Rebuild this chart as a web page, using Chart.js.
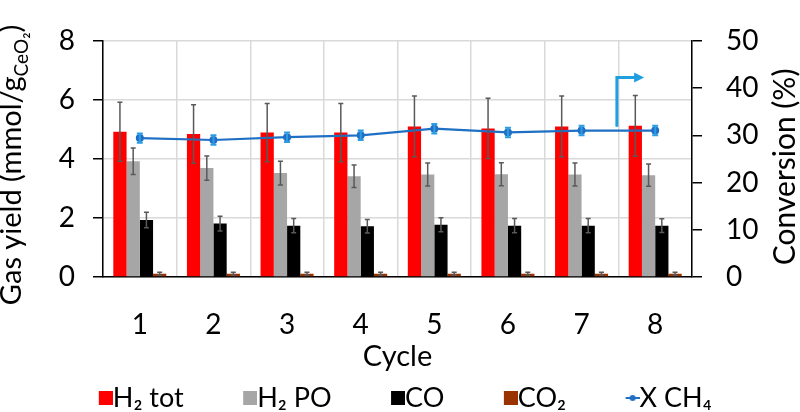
<!DOCTYPE html>
<html><head><meta charset="utf-8">
<script src="https://cdn.jsdelivr.net/npm/chart.js@4.4.1/dist/chart.umd.min.js"></script>
<style>html,body{margin:0;padding:0;background:#fff}canvas{display:block}</style>
</head><body>
<canvas id="c" width="800" height="412"></canvas>
<script>
// ---- data ----
const cycles = ['1','2','3','4','5','6','7','8'];
const h2Tot    = [4.92, 4.84, 4.89, 4.89, 5.10, 5.03, 5.10, 5.12];
const h2TotErr = [1.00, 0.99, 0.99, 0.99, 1.03, 1.02, 1.03, 1.03];
const h2PO     = [3.92, 3.69, 3.52, 3.41, 3.47, 3.48, 3.47, 3.45];
const h2POErr  = [0.45, 0.41, 0.40, 0.38, 0.39, 0.39, 0.39, 0.38];
const co       = [1.93, 1.81, 1.74, 1.72, 1.77, 1.74, 1.74, 1.74];
const coErr    = [0.26, 0.25, 0.24, 0.23, 0.24, 0.24, 0.24, 0.23];
const co2      = [0.11, 0.11, 0.11, 0.11, 0.11, 0.11, 0.11, 0.11];
const co2Err   = [0.05, 0.05, 0.05, 0.05, 0.05, 0.05, 0.05, 0.05];
const xCH4     = [29.4, 29.0, 29.6, 30.0, 31.4, 30.6, 31.0, 31.0];
const xCH4Err  = [1.0, 1.0, 1.0, 1.0, 1.0, 1.0, 1.0, 1.0];
const leftTicks  = [0, 2, 4, 6, 8];
const rightTicks = [0, 10, 20, 30, 40, 50];
// arrow annotation pointing to the right axis (category index, right-axis value)
const arrowX = [6.48, 6.48, 6.85];
const arrowY = [31.8, 42.25, 42.25];

const FONT = 'Lato';
const LEGEND_SIZE = 27;
Chart.defaults.color = '#000';
Chart.defaults.font.family = FONT;

// legend marker images: marker sits at the right end so it touches the text
function legendMarker(ds) {
  const box = 14, gap = LEGEND_SIZE; // image width = box + 2*(fontSize/2)
  const c = document.createElement('canvas');
  c.width = box + gap; c.height = box;
  const g = c.getContext('2d');
  const x0 = gap;
  if (ds.type === 'line') {
    g.strokeStyle = ds.borderColor; g.lineWidth = 2;
    g.beginPath(); g.moveTo(x0, box / 2); g.lineTo(x0 + box, box / 2); g.stroke();
    g.fillStyle = ds.borderColor;
    g.beginPath(); g.arc(x0 + box / 2, box / 2, 3, 0, Math.PI * 2); g.fill();
  } else {
    g.fillStyle = ds.backgroundColor;
    g.fillRect(x0, 0, box, box);
  }
  return c;
}

const errorBarPlugin = {
  id: 'errorBars',
  afterDatasetsDraw(chart) {
    const ctx = chart.ctx;
    chart.data.datasets.forEach((ds, i) => {
      if (!ds.errorBars) return;
      const meta = chart.getDatasetMeta(i);
      const scale = chart.scales[meta.yAxisID];
      ctx.save();
      ctx.strokeStyle = ds.errorBarColor;
      ctx.lineWidth = ds.errorBarWidth;
      meta.data.forEach((el, j) => {
        const v = ds.data[j], e = ds.errorBars[j];
        const yT = scale.getPixelForValue(v + e), yB = scale.getPixelForValue(v - e);
        const x = el.x, c = ds.errorBarCap;
        ctx.beginPath();
        ctx.moveTo(x, yT); ctx.lineTo(x, yB);
        ctx.moveTo(x - c, yT); ctx.lineTo(x + c, yT);
        ctx.moveTo(x - c, yB); ctx.lineTo(x + c, yB);
        ctx.stroke();
      });
      ctx.restore();
    });
  }
};

const arrowPlugin = {
  id: 'arrow',
  afterDatasetsDraw(chart) {
    const ctx = chart.ctx, xs = chart.scales.x, ys = chart.scales.y1;
    const px = arrowX.map(v => xs.getPixelForValue(v));
    const py = arrowY.map(v => ys.getPixelForValue(v));
    const n = px.length;
    ctx.save();
    ctx.strokeStyle = '#1f9fe0'; ctx.fillStyle = '#1f9fe0'; ctx.lineWidth = 3;
    ctx.beginPath();
    ctx.moveTo(px[0], py[0]);
    for (let i = 1; i < n - 1; i++) ctx.lineTo(px[i], py[i]);
    ctx.lineTo(px[n - 1] - 8, py[n - 1]);
    ctx.stroke();
    ctx.beginPath();
    ctx.moveTo(px[n - 1], py[n - 1]);
    ctx.lineTo(px[n - 1] - 10, py[n - 1] - 5);
    ctx.lineTo(px[n - 1] - 10, py[n - 1] + 5);
    ctx.closePath(); ctx.fill();
    ctx.restore();
  }
};

function drawRotated(ctx, parts, baseX, centerY) {
  ctx.save();
  ctx.fillStyle = '#000';
  ctx.textBaseline = 'alphabetic';
  ctx.textAlign = 'left';
  let total = 0;
  parts.forEach(p => { ctx.font = p.size + 'px ' + FONT; p.w = ctx.measureText(p.text).width; total += p.w; });
  ctx.translate(baseX, centerY);
  ctx.rotate(-Math.PI / 2);
  let x = -total / 2;
  parts.forEach(p => { ctx.font = p.size + 'px ' + FONT; ctx.fillText(p.text, x, p.dy || 0); x += p.w; });
  ctx.restore();
}

const titlesPlugin = {
  id: 'yTitles',
  afterDraw(chart) {
    const ctx = chart.ctx, a = chart.chartArea;
    const cy = (a.top + a.bottom) / 2 + 6;
    drawRotated(ctx, [
      {text: 'Gas yield (mmol/g', size: 29},
      {text: 'CeO₂', size: 19, dy: 7},
      {text: ')', size: 29}
    ], chart.scales.y.left + 21, cy);
    drawRotated(ctx, [{text: 'Conversion (%)', size: 30}], a.right + 103, cy + 2);
  }
};

const ticksFont = {family: FONT, size: 28};

new Chart(document.getElementById('c'), {
  data: {
    labels: cycles,
    datasets: [
      {type: 'bar', label: 'H₂ tot', data: h2Tot, backgroundColor: '#ff0000', yAxisID: 'y',
       errorBars: h2TotErr, errorBarColor: '#595959', errorBarWidth: 1.5, errorBarCap: 2.5},
      {type: 'bar', label: 'H₂ PO', data: h2PO, backgroundColor: '#a6a6a6', yAxisID: 'y',
       errorBars: h2POErr, errorBarColor: '#595959', errorBarWidth: 1.5, errorBarCap: 2.5},
      {type: 'bar', label: 'CO', data: co, backgroundColor: '#000000', yAxisID: 'y',
       errorBars: coErr, errorBarColor: '#595959', errorBarWidth: 1.5, errorBarCap: 2.5},
      {type: 'bar', label: 'CO₂', data: co2, backgroundColor: '#993300', yAxisID: 'y',
       errorBars: co2Err, errorBarColor: '#595959', errorBarWidth: 1.5, errorBarCap: 2.5},
      {type: 'line', label: 'X CH₄', data: xCH4, yAxisID: 'y1', order: -1,
       borderColor: '#1f6fc5', backgroundColor: '#1f6fc5', borderWidth: 2.2,
       pointRadius: 4, pointBorderWidth: 0, pointBackgroundColor: '#1f6fc5', tension: 0,
       errorBars: xCH4Err, errorBarColor: '#2d9de3', errorBarWidth: 2, errorBarCap: 3}
    ]
  },
  options: {
    responsive: false,
    animation: false,
    devicePixelRatio: 1,
    layout: {padding: {top: 30, left: 0, right: 3, bottom: -9.5}},
    datasets: {bar: {categoryPercentage: 0.72, barPercentage: 1.0, borderWidth: 0}},
    plugins: {
      tooltip: {enabled: false},
      legend: {
        position: 'bottom',
        labels: {
          font: {family: FONT, size: LEGEND_SIZE},
          color: '#000',
          padding: 46,
          usePointStyle: true,
          pointStyleWidth: 14,
          boxHeight: 14,
          sort: (a, b) => a.datasetIndex - b.datasetIndex,
          generateLabels(chart) {
            const items = Chart.defaults.plugins.legend.labels.generateLabels(chart);
            items.forEach(it => {
              const ds = chart.data.datasets[it.datasetIndex];
              it.pointStyle = legendMarker(ds);
              it.rotation = 0;
            });
            return items;
          }
        }
      }
    },
    scales: {
      x: {
        type: 'category',
        offset: true,
        grid: {offset: true, color: '#d9d9d9', lineWidth: 1.5, drawTicks: false},
        border: {color: '#000', width: 1.5},
        ticks: {font: ticksFont, padding: 31, maxRotation: 0},
        title: {display: true, text: 'Cycle', font: {family: FONT, size: 29}, padding: {top: 0, bottom: -36}},
        afterFit: s => { s.height = 61.5; }
      },
      y: {
        position: 'left',
        min: 0, max: 8,
        afterBuildTicks: s => { s.ticks = leftTicks.map(v => ({value: v})); },
        ticks: {font: ticksFont, padding: 18},
        grid: {color: '#d9d9d9', lineWidth: 1.5, tickColor: '#000', tickLength: 10},
        border: {color: '#000', width: 1.5},
        afterFit: s => { s.width = 103; }
      },
      y1: {
        position: 'right',
        min: 0, max: 50,
        afterBuildTicks: s => { s.ticks = rightTicks.map(v => ({value: v})); },
        ticks: {font: ticksFont, padding: 24},
        grid: {drawOnChartArea: false, color: '#000', lineWidth: 1.5, tickLength: 10},
        border: {color: '#000', width: 1.5},
        afterFit: s => { s.width = 105; }
      }
    }
  },
  plugins: [errorBarPlugin, arrowPlugin, titlesPlugin]
});
</script>
</body></html>
